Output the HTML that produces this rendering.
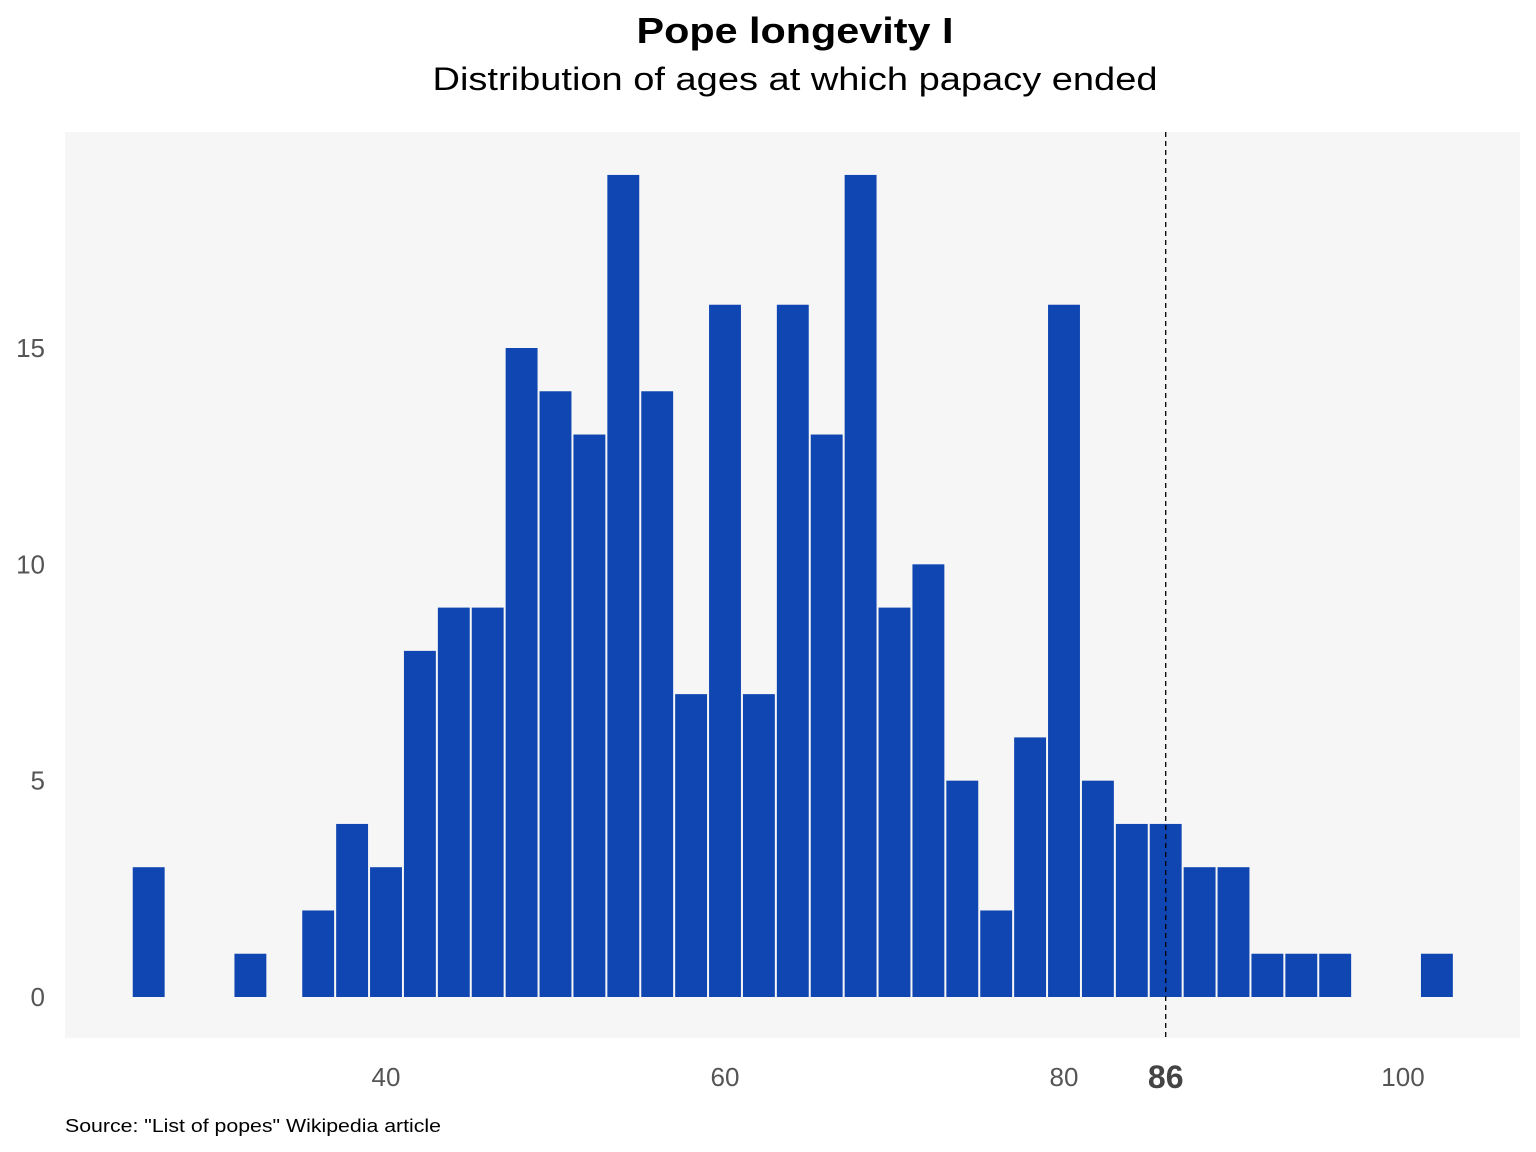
<!DOCTYPE html>
<html><head><meta charset="utf-8">
<style>
body{margin:0;background:#fff;font-family:"Liberation Sans",sans-serif;}
svg{display:block}
</style></head>
<body>
<svg id="chart" width="1536" height="1152" xmlns="http://www.w3.org/2000/svg">
<text x="795" y="43" text-anchor="middle" font-size="36" font-weight="bold" fill="#000" textLength="317" lengthAdjust="spacingAndGlyphs">Pope longevity I</text>
<text x="795" y="90" text-anchor="middle" font-size="32" fill="#000" textLength="725" lengthAdjust="spacingAndGlyphs">Distribution of ages at which papacy ended</text>
<rect x="65" y="132" width="1455" height="906" fill="#f6f6f6"/>
<g id="bars"></g>
<g id="xticks"></g>
<g id="yticks"></g>
<text x="65" y="1132" font-size="18" fill="#000" textLength="376" lengthAdjust="spacingAndGlyphs">Source: "List of popes" Wikipedia article</text>
</svg>
<script>
const binStarts=[25,31,35,37,39,41,43,45,47,49,51,53,55,57,59,61,63,65,67,69,71,73,75,77,79,81,83,85,87,89,91,93,95,101];
const counts=[3,1,2,4,3,8,9,9,15,14,13,19,14,7,16,7,16,13,19,9,10,5,2,6,16,5,4,4,3,3,1,1,1,1];
const binWidth=2;
const xTicks=[40,60,80,100];
const yTicks=[0,5,10,15];
const markerAge=86;
const NS="http://www.w3.org/2000/svg";
const xs=v=>386+(v-40)*(1403-386)/60;
const ys=v=>997-v*(997-348)/15;
const bars=document.getElementById('bars');
binStarts.forEach((b,i)=>{
  const r=document.createElementNS(NS,'rect');
  const x0=xs(b),x1=xs(b+binWidth);
  r.setAttribute('x',x0+1);r.setAttribute('width',x1-x0-2);
  r.setAttribute('y',ys(counts[i]));r.setAttribute('height',ys(0)-ys(counts[i]));
  r.setAttribute('fill','#1046b1');
  
  
  bars.appendChild(r);
});
const ln=document.createElementNS(NS,'line');
ln.setAttribute('x1',xs(markerAge));ln.setAttribute('x2',xs(markerAge));
ln.setAttribute('y1',132);ln.setAttribute('y2',1038);
ln.setAttribute('stroke','#000');ln.setAttribute('stroke-width','1.3');ln.setAttribute('stroke-dasharray','5,4');


bars.appendChild(ln);
const xg=document.getElementById('xticks');
xTicks.forEach(t=>{
  const e=document.createElementNS(NS,'text');
  e.setAttribute('x',xs(t));e.setAttribute('y',1086);e.setAttribute('text-anchor','middle');
  e.setAttribute('font-size','26');e.setAttribute('fill','#555');e.textContent=t;
  
  
  xg.appendChild(e);
});
const m=document.createElementNS(NS,'text');
m.setAttribute('x',xs(markerAge));m.setAttribute('y',1088);m.setAttribute('text-anchor','middle');
m.setAttribute('font-size','32');m.setAttribute('font-weight','bold');m.setAttribute('fill','#444');m.textContent=markerAge;


xg.appendChild(m);
const yg=document.getElementById('yticks');
yTicks.forEach(t=>{
  const e=document.createElementNS(NS,'text');
  e.setAttribute('x',45);e.setAttribute('y',ys(t)+9);e.setAttribute('text-anchor','end');
  e.setAttribute('font-size','26');e.setAttribute('fill','#555');e.textContent=t;
  
  
  yg.appendChild(e);
});
</script>
</body></html>
